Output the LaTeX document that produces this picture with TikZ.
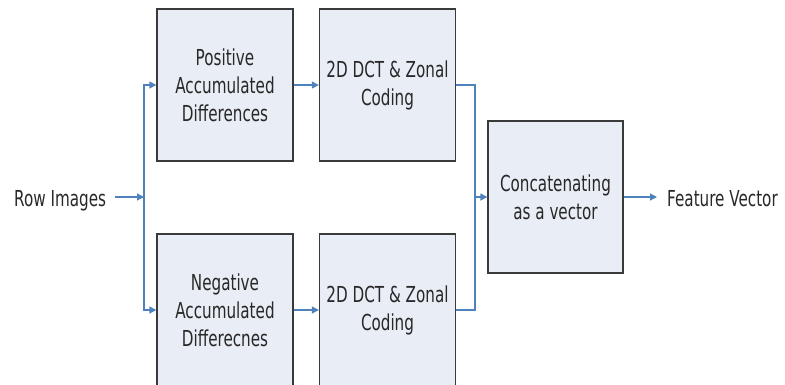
\documentclass[tikz,border=0pt]{standalone}
\usepackage{fontspec}
\setmainfont{DejaVu Sans}[FakeStretch=0.69]
\usetikzlibrary{arrows.meta}
\definecolor{boxfill}{RGB}{233,237,245}
\definecolor{boxline}{RGB}{58,58,58}
\definecolor{arrblue}{RGB}{79,129,189}
\definecolor{txt}{RGB}{40,40,40}
\tikzset{
  blockbox/.style={draw=boxline, fill=boxfill, line width=1.3pt,
    minimum width=136pt, minimum height=152pt, inner sep=0pt,
    align=center, text=txt, font=\fontsize{22}{28}\selectfont},
  lbl/.style={inner sep=0pt, text=txt, font=\fontsize{22}{28}\selectfont},
  conn/.style={draw=arrblue, line width=1.4pt},
  arr/.style={conn, -{Triangle[length=7pt,width=7pt]}}
}
\begin{document}
\begin{tikzpicture}[x=1pt,y=-1pt]
\useasboundingbox (0,0) rectangle (785,384);
\node[blockbox] (pos) at (225,85) {Positive\\Accumulated\\Differences};
\node[blockbox] (dcta) at (387.5,85) {2D DCT \& Zonal\\Coding};
\node[blockbox] (neg) at (225,310) {Negative\\Accumulated\\Differecnes};
\node[blockbox] (dctb) at (387.5,310) {2D DCT \& Zonal\\Coding};
\node[blockbox, minimum width=135pt] (cat) at (555.5,197) {Concatenating\\as a vector};
\node[lbl, anchor=base west] (row) at (14,206) {Row Images};
\node[lbl, anchor=base west] (fv) at (667,206) {Feature Vector};
\coordinate (br) at (144,197);
\coordinate (mg) at (475,197);
\draw[arr, line width=1.1pt, shorten <=9pt] (row.east |- br) -- (br);
\draw[arr] (br) |- (pos.west);
\draw[arr] (br) |- (neg.west);
\draw[arr] (pos.east) -- (dcta.west);
\draw[arr] (neg.east) -- (dctb.west);
\draw[conn] (dcta.east) -| (mg);
\draw[conn] (dctb.east) -| (mg);
\draw[arr] (mg) -- (cat.west);
\draw[arr, line width=1.1pt, shorten >=10pt] (cat.east) -- (cat.east -| fv.west);
\end{tikzpicture}
\end{document}
